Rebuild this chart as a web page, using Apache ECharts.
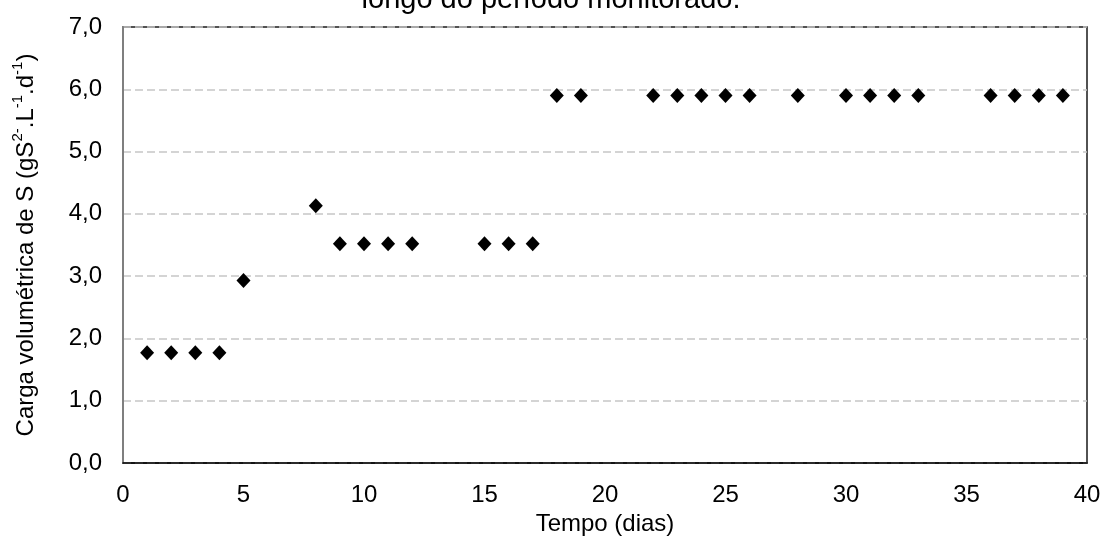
<!DOCTYPE html>
<html>
<head>
<meta charset="utf-8">
<script src="https://cdn.jsdelivr.net/npm/echarts@6/dist/echarts.min.js"></script>
<style>
  html, body { margin: 0; padding: 0; background: #fff; }
  #chart { width: 1102px; height: 541px; }
</style>
</head>
<body>
<div id="chart"></div>
<script>
// Days of monitoring and the volumetric sulfide load applied on each day
const days = [1, 2, 3, 4, 5, 8, 9, 10, 11, 12, 15, 16, 17, 18, 19, 22, 23, 24, 25, 26, 28, 30, 31, 32, 33, 36, 37, 38, 39];
const loads = [1.77, 1.77, 1.77, 1.77, 2.93, 4.13, 3.52, 3.52, 3.52, 3.52, 3.52, 3.52, 3.52,
               5.9, 5.9, 5.9, 5.9, 5.9, 5.9, 5.9, 5.9, 5.9, 5.9, 5.9, 5.9, 5.9, 5.9, 5.9, 5.9];

const titleText = 'longo do período monitorado.';
const xName = 'Tempo (dias)';
const yName = '{n|Carga volumétrica de S (gS}{s|2-}{n|.L}{s|-1}{n|.d}{s|-1}{n|)}';

const FONT = '"Liberation Sans", Arial, sans-serif';
const fmtComma = v => v.toFixed(1).replace('.', ',');

const chart = echarts.init(document.getElementById('chart'), null, { renderer: 'canvas' });

chart.setOption({
  backgroundColor: '#ffffff',
  animation: false,
  grid: {
    left: 123, right: 15, top: 27, bottom: 78,
    outerBoundsMode: 'none',
    containLabel: false,
    show: true,
    borderColor: '#1a1a1a',
    borderWidth: 1.5,
    backgroundColor: 'transparent'
  },
  graphic: [
    {
      type: 'text',
      x: 551,
      y: 14,
      style: {
        text: titleText,
        font: '29px ' + FONT,
        fill: '#000',
        align: 'center',
        verticalAlign: 'bottom'
      }
    }
  ],
  xAxis: {
    type: 'value',
    min: 0, max: 40, interval: 5,
    name: xName,
    nameLocation: 'middle',
    nameGap: 49,
    nameTextStyle: { fontFamily: FONT, fontSize: 24, color: '#000' },
    axisLine: { show: true, lineStyle: { color: '#000', width: 1.5 } },
    axisTick: { show: false },
    axisLabel: { fontFamily: FONT, fontSize: 24, color: '#000', margin: 20 },
    splitLine: { show: false }
  },
  yAxis: {
    type: 'value',
    min: 0, max: 7, interval: 1,
    name: yName,
    nameLocation: 'middle',
    nameRotate: 90,
    nameGap: 85,
    nameTextStyle: {
      color: '#000',
      rich: {
        n: { fontSize: 24, fontFamily: FONT, color: '#000', lineHeight: 28, verticalAlign: 'bottom' },
        s: { fontSize: 15, fontFamily: FONT, color: '#000', lineHeight: 28, verticalAlign: 'top' }
      }
    },
    axisLine: { show: true, lineStyle: { color: '#7f7f7f', width: 2 } },
    axisTick: { show: false },
    axisLabel: { fontFamily: FONT, fontSize: 24, color: '#000', margin: 21, formatter: fmtComma },
    splitLine: { show: true, lineStyle: { color: '#c6c6c6', width: 1.5, type: [8, 4] } }
  },
  series: [{
    type: 'scatter',
    data: days.map((d, i) => [d, loads[i]]),
    symbol: 'diamond',
    symbolSize: [14, 15],
    itemStyle: { color: '#000', opacity: 1 }
  }]
});
</script>
</body>
</html>
